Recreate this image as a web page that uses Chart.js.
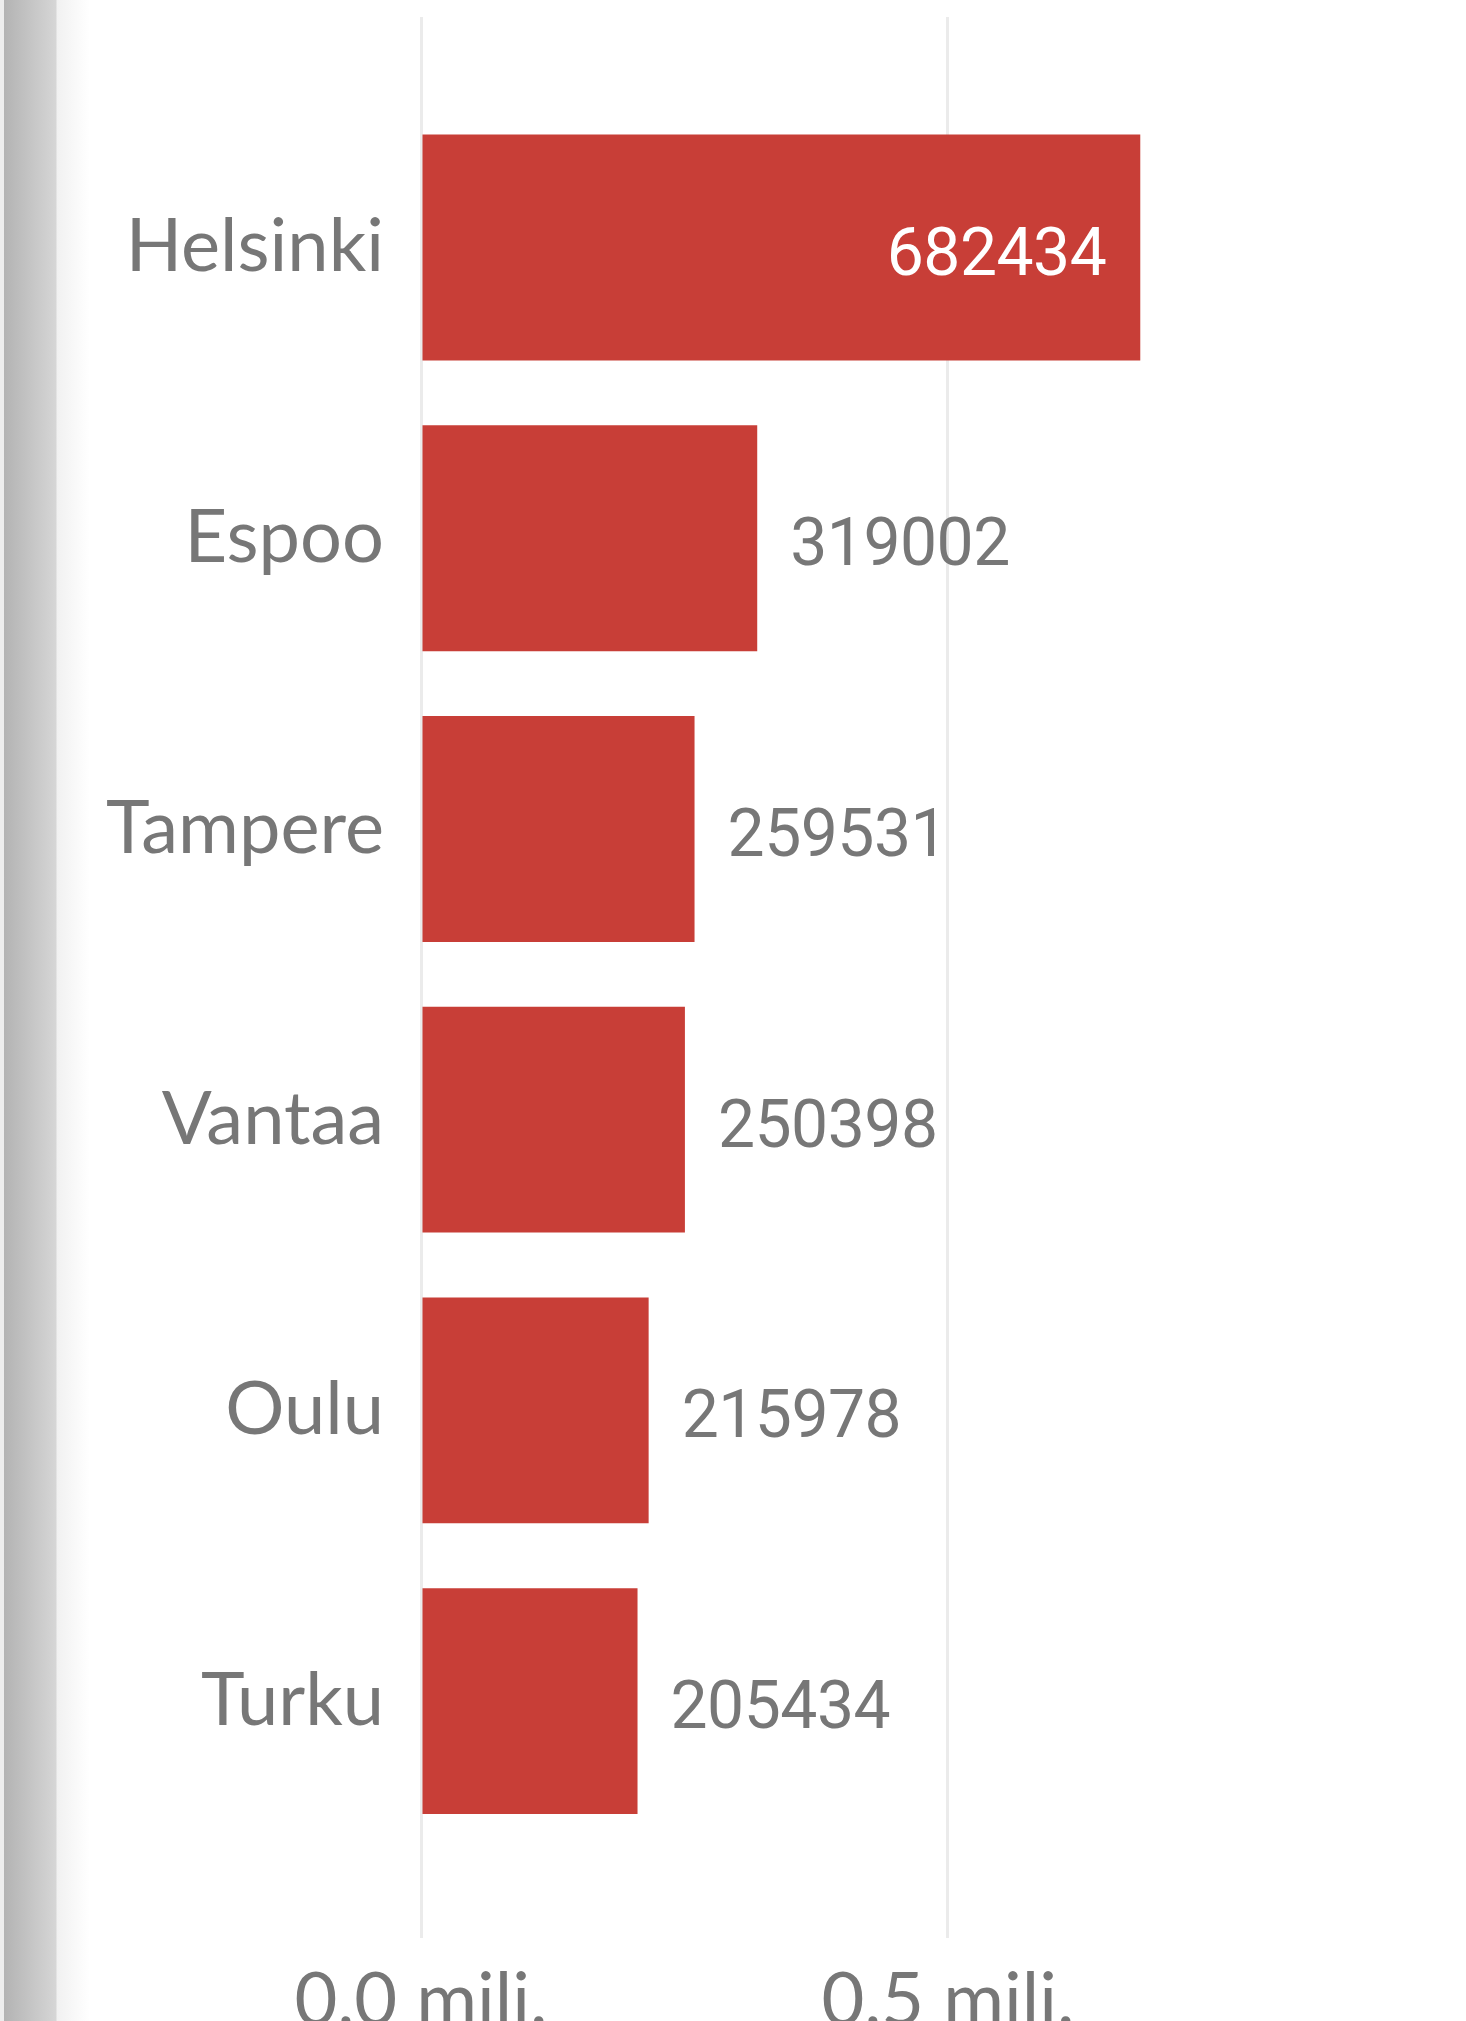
<!DOCTYPE html>
<html>
<head>
<meta charset="utf-8">
<title>Suurimmat kaupungit</title>
<script src="https://cdn.jsdelivr.net/npm/chart.js@4.4.1/dist/chart.umd.min.js"></script>
<style>
    html, body { margin: 0; padding: 0; width: 1466px; height: 2021px; overflow: hidden; }
    body {
        background: linear-gradient(to right, #ededed 0, #ededed 4px, #b3b3b3 4px, #d6d6d6 56px, #f1f1f1 57px, #ffffff 90px);
    }
    #wrap { position: absolute; left: 0; top: 0; width: 1466px; height: 2021px; }
</style>
</head>
<body>
<div id="wrap"><canvas id="cityChart" width="1466" height="2021"></canvas></div>
<script>
// data
const cities = ['Helsinki', 'Espoo', 'Tampere', 'Vantaa', 'Oulu', 'Turku'];
const population = [682434, 319002, 259531, 250398, 215978, 205434];
const xTicks = [0, 500000];
const xMax = 972500;

const textGray = '#777777';
const barRed = '#c83e37';

function formatMillions(value) {
    return (value / 1000000).toFixed(1).replace('.', ',') + ' mili.';
}

// draws the numbers next to / inside the bars
const valueLabels = {
    id: 'valueLabels',
    afterDatasetsDraw(chart) {
        const ctx = chart.ctx;
        const meta = chart.getDatasetMeta(0);
        const area = chart.chartArea;
        ctx.save();
        ctx.font = '66px Roboto, sans-serif';
        ctx.letterSpacing = '-0.5px';
        ctx.textBaseline = 'alphabetic';
        meta.data.forEach((bar, i) => {
            const text = String(population[i]);
            const y = bar.y + 27;
            const inside = (bar.x - bar.base) > (area.right - area.left) / 2;
            if (inside) {
                ctx.fillStyle = '#ffffff';
                ctx.textAlign = 'right';
                ctx.fillText(text, bar.x - 34, y);
            } else {
                ctx.fillStyle = textGray;
                ctx.textAlign = 'left';
                ctx.fillText(text, bar.x + 33, y);
            }
        });
        ctx.restore();
    }
};

window.onload = function() {
    const canvas = document.getElementById('cityChart');
    new Chart(canvas.getContext('2d'), {
        type: 'bar',
        data: {
            datasets: [{
                data: population.map((v, i) => ({ x: v, y: i })),
                backgroundColor: barRed,
                borderWidth: 0,
                barPercentage: 0.777,
                categoryPercentage: 1
            }]
        },
        options: {
            indexAxis: 'y',
            responsive: false,
            animation: false,
            layout: { padding: { top: 17, right: 20, left: 0, bottom: 0 } },
            plugins: {
                legend: { display: false },
                tooltip: { enabled: false }
            },
            scales: {
                x: {
                    type: 'linear',
                    min: 0,
                    max: xMax,
                    bounds: 'data',
                    border: { display: false },
                    grid: { color: '#ebebeb', lineWidth: 3, drawTicks: false },
                    ticks: {
                        padding: 19,
                        color: textGray,
                        font: { family: 'Lato', size: 74 },
                        callback: formatMillions
                    },
                    afterBuildTicks: scale => {
                        scale.ticks = xTicks.map(v => ({ value: v }));
                    },
                    afterFit: scale => {
                        scale.height = 83;
                        scale.paddingLeft = 0;
                        scale.paddingRight = 0;
                    }
                },
                y: {
                    type: 'linear',
                    reverse: true,
                    offset: false,
                    min: -0.793,
                    max: 5.815,
                    bounds: 'data',
                    border: { display: false },
                    grid: { display: false, drawTicks: false, offset: false },
                    ticks: {
                        autoSkip: false,
                        padding: 37,
                        color: textGray,
                        font: { family: 'Lato', size: 74 },
                        callback: v => cities[v]
                    },
                    afterBuildTicks: scale => {
                        scale.ticks = cities.map((c, i) => ({ value: i }));
                    },
                    afterFit: scale => {
                        scale.width = 421;
                        scale.paddingTop = 0;
                        scale.paddingBottom = 0;
                    }
                }
            }
        },
        plugins: [valueLabels]
    });
};
</script>
</body>
</html>
